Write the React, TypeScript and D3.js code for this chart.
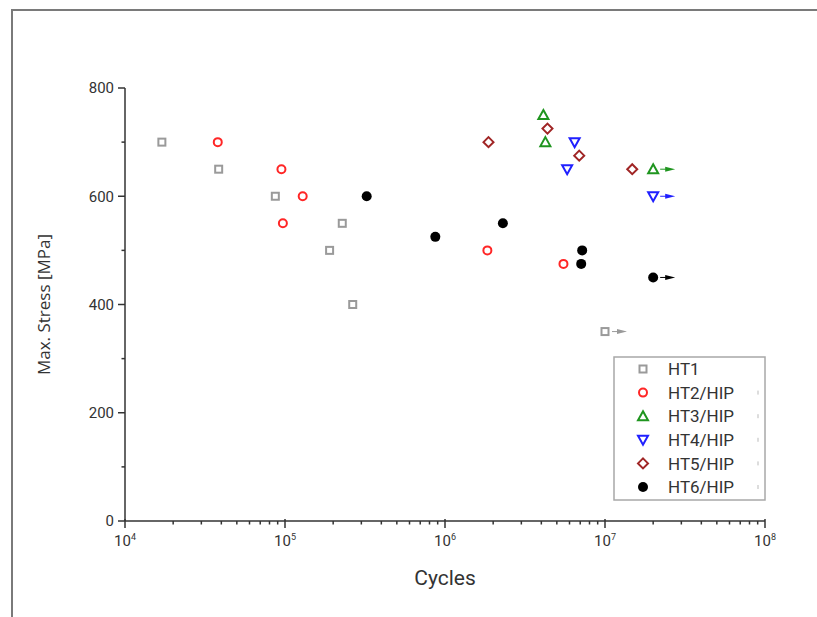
import * as d3 from "d3";
import React from "react";

// cycles to failure / max stress
const ht1Cycles = [1.7e4, 3.85e4, 8.7e4, 1.9e5, 2.28e5, 2.65e5, 1.0e7];
const ht1Stress = [700, 650, 600, 500, 550, 400, 350];
const ht1Runout = [false, false, false, false, false, false, true];

const ht2Cycles = [3.8e4, 9.5e4, 1.29e5, 9.7e4, 1.84e6, 5.5e6];
const ht2Stress = [700, 650, 600, 550, 500, 475];
const ht2Runout = [false, false, false, false, false, false];

const ht3Cycles = [4.12e6, 4.24e6, 2.0e7];
const ht3Stress = [750, 700, 650];
const ht3Runout = [false, false, true];

const ht4Cycles = [6.46e6, 5.8e6, 2.0e7];
const ht4Stress = [700, 650, 600];
const ht4Runout = [false, false, true];

const ht5Cycles = [1.87e6, 4.37e6, 6.9e6, 1.48e7];
const ht5Stress = [700, 725, 675, 650];
const ht5Runout = [false, false, false, false];

const ht6Cycles = [3.24e5, 8.7e5, 2.3e6, 7.2e6, 7.1e6, 2.0e7];
const ht6Stress = [600, 525, 550, 500, 475, 450];
const ht6Runout = [false, false, false, false, false, true];

const seriesNames = ["HT1", "HT2/HIP", "HT3/HIP", "HT4/HIP", "HT5/HIP", "HT6/HIP"];
const yTicks = [0, 200, 400, 600, 800];
const yMinorTicks = [100, 300, 500, 700];
const xTicks = [1e4, 1e5, 1e6, 1e7, 1e8];

type Shape = "square" | "circle" | "up" | "down" | "diamond" | "dot";

const seriesStyle: { shape: Shape; color: string }[] = [
  { shape: "square", color: "#9a9a9a" },
  { shape: "circle", color: "#ff2626" },
  { shape: "up", color: "#1f951f" },
  { shape: "down", color: "#2020ff" },
  { shape: "diamond", color: "#a02525" },
  { shape: "dot", color: "#000000" },
];

const allSeries = [
  { c: ht1Cycles, s: ht1Stress, r: ht1Runout },
  { c: ht2Cycles, s: ht2Stress, r: ht2Runout },
  { c: ht3Cycles, s: ht3Stress, r: ht3Runout },
  { c: ht4Cycles, s: ht4Stress, r: ht4Runout },
  { c: ht5Cycles, s: ht5Stress, r: ht5Runout },
  { c: ht6Cycles, s: ht6Stress, r: ht6Runout },
];

const font = "Roboto, 'DejaVu Sans', sans-serif";

function Marker({ shape, color, x, y }: { shape: Shape; color: string; x: number; y: number }) {
  const sw = 2;
  switch (shape) {
    case "square":
      return <rect x={x - 3.5} y={y - 3.5} width={7} height={7} fill="none" stroke={color} strokeWidth={sw} />;
    case "circle":
      return <circle cx={x} cy={y} r={4} fill="none" stroke={color} strokeWidth={sw} />;
    case "up":
      return (
        <path d={`M${x},${y - 5} L${x + 5},${y + 4} L${x - 5},${y + 4} Z`} fill="none" stroke={color} strokeWidth={sw} />
      );
    case "down":
      return (
        <path d={`M${x - 5},${y - 4} L${x + 5},${y - 4} L${x},${y + 5} Z`} fill="none" stroke={color} strokeWidth={sw} />
      );
    case "diamond":
      return (
        <path d={`M${x},${y - 5} L${x + 5},${y} L${x},${y + 5} L${x - 5},${y} Z`} fill="none" stroke={color} strokeWidth={sw} />
      );
    default:
      return <circle cx={x} cy={y} r={5} fill={color} />;
  }
}

export default function App() {
  const width = 817;
  const height = 617;

  const x = d3.scaleLog().domain([1e4, 1e8]).range([125, 765]);
  const y = d3.scaleLinear().domain([0, 800]).range([521, 88]);

  const xMinor: number[] = [];
  for (let e = 4; e < 8; e++) {
    for (let k = 2; k <= 9; k++) xMinor.push(k * Math.pow(10, e));
  }

  const axisColor = "#333";
  const x0 = x.range()[0];
  const y0 = y.range()[0];

  return (
    <svg
      width={width}
      height={height}
      style={{ position: "absolute", left: 0, top: 0, background: "#fff" }}
    >
      {/* outer frame */}
      <path d={`M12,${height} L12,10 L${width},10`} fill="none" stroke="#7a7a7a" strokeWidth={2} />

      {/* y axis */}
      <line x1={x0} x2={x0} y1={y(800)} y2={y0} stroke={axisColor} strokeWidth={1.5} />
      {yTicks.map((t) => (
        <g key={t}>
          <line x1={x0 - 7} x2={x0} y1={y(t)} y2={y(t)} stroke={axisColor} strokeWidth={1.5} />
          <text x={x0 - 11} y={y(t)} dy="0.35em" textAnchor="end" fontFamily={font} fontSize={15} fill="#333">
            {t}
          </text>
        </g>
      ))}
      {yMinorTicks.map((t) => (
        <line key={t} x1={x0 - 3.5} x2={x0} y1={y(t)} y2={y(t)} stroke={axisColor} strokeWidth={1.5} />
      ))}

      {/* x axis */}
      <line x1={x0} x2={x.range()[1]} y1={y0} y2={y0} stroke={axisColor} strokeWidth={1.5} />
      {xTicks.map((t) => (
        <g key={t}>
          <line x1={x(t)} x2={x(t)} y1={y0 - 2} y2={y0 + 7} stroke={axisColor} strokeWidth={1.5} />
          <text x={x(t)} y={y0 + 25} textAnchor="middle" fontFamily={font} fontSize={15} fill="#333">
            10
            <tspan dy={-6} fontSize={9}>
              {Math.round(Math.log10(t))}
            </tspan>
          </text>
        </g>
      ))}
      {xMinor.map((t) => (
        <line key={t} x1={x(t)} x2={x(t)} y1={y0} y2={y0 + 3.5} stroke={axisColor} strokeWidth={1.5} />
      ))}

      {/* axis titles */}
      <text x={(x.range()[0] + x.range()[1]) / 2} y={585} textAnchor="middle" fontFamily={font} fontSize={21} fill="#333">
        Cycles
      </text>
      <text
        transform={`translate(50,${(y(0) + y(800)) / 2}) rotate(-90)`}
        textAnchor="middle"
        fontFamily="'Open Sans', sans-serif"
        fontSize={17}
        fill="#333"
      >
        Max. Stress [MPa]
      </text>

      {/* data */}
      {allSeries.map((ser, i) =>
        ser.c.map((c, j) => {
          const px = x(c);
          const py = y(ser.s[j]);
          const st = seriesStyle[i];
          return (
            <g key={`${i}-${j}`}>
              {ser.r[j] && (
                <g>
                  <line x1={px + 7} x2={px + 14} y1={py} y2={py} stroke={st.color} strokeWidth={1} />
                  <path d={`M${px + 12},${py - 2.5} L${px + 22},${py} L${px + 12},${py + 2.5} Z`} fill={st.color} />
                </g>
              )}
              <Marker shape={st.shape} color={st.color} x={px} y={py} />
            </g>
          );
        })
      )}

      {/* legend */}
      <rect x={614} y={357} width={151} height={143} fill="#fff" stroke="#a8a8a8" strokeWidth={1.5} />
      {seriesNames.map((name, i) => {
        const ly = 369 + i * 23.6;
        return (
          <g key={name}>
            <Marker shape={seriesStyle[i].shape} color={seriesStyle[i].color} x={643} y={ly} />
            <text x={668} y={ly} dy="0.36em" fontFamily={font} fontSize={17} fill="#333">
              {name}
            </text>
            {i > 0 && <line x1={758} x2={758} y1={ly - 2} y2={ly + 2} stroke="#bbb" strokeWidth={1} />}
          </g>
        );
      })}
    </svg>
  );
}
